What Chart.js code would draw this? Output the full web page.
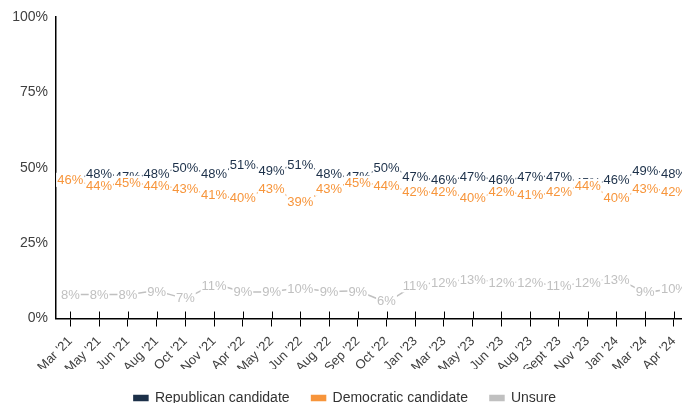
<!DOCTYPE html>
<html>
<head>
<meta charset="utf-8">
<script src="https://cdn.jsdelivr.net/npm/chart.js@4"></script>
<style>
  html, body { margin: 0; padding: 0; background: #fff; overflow: hidden; }
  #wrap { width: 692px; height: 403px; }
</style>
</head>
<body>
<div id="wrap"><canvas id="chart"></canvas></div>
<script>
const months = ["Mar '21", "May '21", "Jun '21", "Aug '21", "Oct '21", "Nov '21", "Apr '22", "May '22",
    "Jun '22", "Aug '22", "Sep '22", "Oct '22", "Jan '23", "Mar '23", "May '23", "Jun '23",
    "Aug '23", "Sept '23", "Nov '23", "Jan '24", "Mar '24", "Apr '24"]
const republican = [46, 48, 47, 48, 50, 48, 51, 49, 51, 48, 47, 50, 47, 46, 47, 46, 47, 47, 45, 46, 49, 48]
const democratic = [46, 44, 45, 44, 43, 41, 40, 43, 39, 43, 45, 44, 42, 42, 40, 42, 41, 42, 44, 40, 43, 42]
const unsure = [8, 8, 8, 9, 7, 11, 9, 9, 10, 9, 9, 6, 11, 12, 13, 12, 12, 11, 12, 13, 9, 10]
const yTicks = [0, 25, 50, 75, 100]

const fontName = '"Liberation Sans", Arial, sans-serif'

// value labels with a white box behind them, drawn on top of the lines
const valueLabels = {
    id: 'valueLabels',
    afterDatasetsDraw(chart) {
        const ctx = chart.ctx
        ctx.save()
        ctx.font = '13px ' + fontName
        ctx.textAlign = 'center'
        ctx.textBaseline = 'middle'
        chart.data.datasets.forEach((ds, i) => {
            const meta = chart.getDatasetMeta(i)
            meta.data.forEach((pt, j) => {
                const txt = ds.data[j] + '%'
                const w = ctx.measureText(txt).width
                ctx.fillStyle = '#fff'
                ctx.fillRect(pt.x - w / 2 - 1, pt.y - 7, w + 2, 14)
                ctx.fillStyle = ds.borderColor
                ctx.fillText(txt, pt.x, pt.y + 1)
            })
        })
        ctx.restore()
    }
}

// x tick marks also poke up above the axis line
const crossTicks = {
    id: 'crossTicks',
    afterDraw(chart) {
        const ctx = chart.ctx
        const x = chart.scales.x
        const bottom = chart.chartArea.bottom
        ctx.save()
        ctx.strokeStyle = '#000'
        ctx.lineWidth = 1
        x.ticks.forEach((t, i) => {
            const px = Math.round(x.getPixelForTick(i)) + 0.5
            ctx.beginPath()
            ctx.moveTo(px, bottom - 7)
            ctx.lineTo(px, bottom)
            ctx.stroke()
        })
        ctx.restore()
    }
}

const data = {
    labels: months,
    datasets: [
        { label: 'Republican candidate', data: republican, borderColor: '#1c3049', backgroundColor: '#1c3049' },
        { label: 'Democratic candidate', data: democratic, borderColor: '#f7953b', backgroundColor: '#f7953b' },
        { label: 'Unsure', data: unsure, borderColor: '#c0c0c0', backgroundColor: '#c0c0c0' }
    ]
}

const config = {
    type: 'line',
    data: data,
    options: {
        responsive: true,
        maintainAspectRatio: false,
        animation: false,
        layout: { padding: { top: 17, right: 2, left: 0, bottom: -12 } },
        elements: {
            line: { borderWidth: 1.5, tension: 0.3 },
            point: { radius: 0 }
        },
        plugins: {
            legend: {
                position: 'bottom',
                labels: {
                    boxWidth: 14,
                    boxHeight: 5,
                    padding: 22,
                    color: '#333',
                    font: { size: 14, family: fontName }
                }
            },
            tooltip: { enabled: false }
        },
        scales: {
            x: {
                offset: true,
                afterFit: (scale) => { scale.height -= 16 },
                grid: { drawOnChartArea: false, tickLength: 8, color: '#000' },
                border: { color: '#000', width: 1.5 },
                ticks: {
                    maxRotation: 45, minRotation: 45, autoSkip: false,
                    color: '#404040',
                    padding: 7,
                    font: { size: 13, family: fontName }
                }
            },
            y: {
                min: 0, max: 100,
                afterFit: (scale) => { scale.width = 56 },
                afterBuildTicks: (scale) => { scale.ticks = yTicks.map(v => ({ value: v })) },
                grid: { display: false, drawTicks: false },
                border: { color: '#000', width: 1.5 },
                ticks: {
                    color: '#404040',
                    padding: 8,
                    font: { size: 14, family: fontName },
                    callback: (v) => v + '%'
                }
            }
        }
    },
    plugins: [valueLabels, crossTicks]
}

let ctx = document.getElementById('chart').getContext('2d')
new Chart(ctx, config)
</script>
</body>
</html>
